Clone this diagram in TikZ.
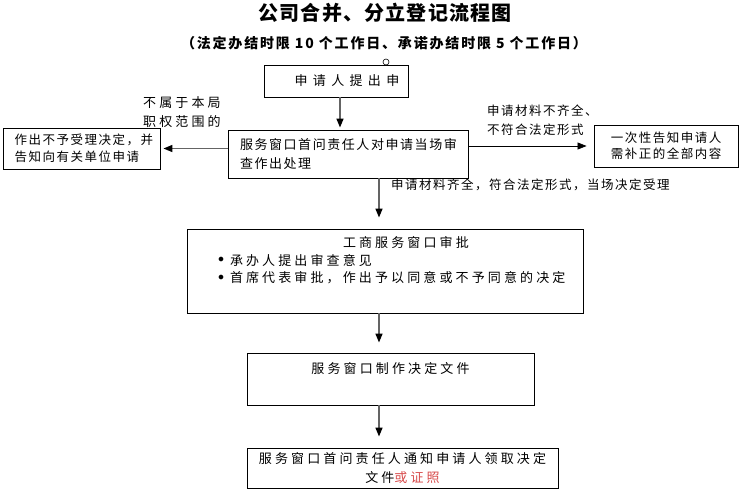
\documentclass[tikz,border=0pt]{standalone}
\usepackage{fontspec}
\setmainfont{Noto Sans CJK SC}
\newfontfamily\cjk{Noto Sans CJK SC}[LetterSpace=12]
\newfontfamily\cjkwide{Noto Sans CJK SC}[LetterSpace=24]
\newfontfamily\cjkspread{Noto Sans CJK SC}[LetterSpace=41]
\newfontfamily\cjktitle{Noto Sans CJK SC}[LetterSpace=6]
\newfontfamily\cjksub{Noto Sans CJK SC}[LetterSpace=13]
\usetikzlibrary{positioning, arrows.meta}
\definecolor{notered}{RGB}{215,75,75}
\definecolor{flowgray}{RGB}{100,100,100}
\newcommand{\listdot}{\hspace*{-3pt}\makebox[12pt][l]{\raisebox{2.5pt}{$\bullet$}}}

\tikzset{
	box/.style={draw, line width=0.9pt, inner sep=0pt, font={\cjk\fontsize{13}{18}\selectfont}},
	note/.style={anchor=west, align=left, inner sep=0pt, font={\cjk\fontsize{12.5}{19}\selectfont}},
	flow/.style={draw=flowgray, line width=1.5pt, -{Triangle[black,length=9pt,width=7pt]}},
	thinflow/.style={draw, line width=0.8pt, -{Triangle[length=9pt,width=7pt]}}
}

\begin{document}
\begin{tikzpicture}[x=1pt,y=-1pt]
	\useasboundingbox (0,0) rectangle (744,495);
	
	%Heading
	\node[font={\cjktitle\bfseries\fontsize{20}{24}\selectfont}] (title) at (385,13) {公司合并、分立登记流程图};
	\node[font={\cjksub\bfseries\fontsize{14}{16}\selectfont}] (subtitle) at (384,43) {（法定办结时限 10 个工作日、承诺办结时限 5 个工作日）};
	
	%Flow boxes
	\node[box, minimum width=144pt, minimum height=32pt, font={\cjkspread\fontsize{13}{18}\selectfont}] (apply) at (336,81) {\hspace*{22pt}申请人提出申};
	\node[circle, draw, fill=white, line width=0.6pt, minimum size=6pt, inner sep=0pt] (knob) at (386,62) {};
	\node[box, minimum width=240pt, minimum height=48pt, text width=216pt, align=left, font={\cjk\fontsize{13}{19}\selectfont}] (handle) at (348,154) {服务窗口首问责任人对申请当场审\\查作出处理};
	\node[box, minimum width=157pt, minimum height=41pt, text width=134pt, align=left, font={\cjk\fontsize{12.5}{16.5}\selectfont}] (refuse) at (81.5,148.5) {作出不予受理决定，并\\告知向有关单位申请};
	\node[box, minimum width=144pt, minimum height=42pt, align=center, font={\cjk\fontsize{12.5}{16}\selectfont}] (notify) at (666,146) {一次性告知申请人\\需补正的全部内容};
	\node[box, minimum width=396pt, minimum height=84pt, text width=328pt, align=left, font={\cjkwide\fontsize{13}{17.5}\selectfont}] (approve) at (385,271) {\hspace*{122pt}工商服务窗口审批\\\listdot 承办人提出审查意见\\\listdot 首席代表审批，作出予以同意或不予同意的决定\\\strut};
	\node[box, minimum width=287pt, minimum height=52pt, align=center, font={\cjkwide\fontsize{13}{17}\selectfont}] (design) at (390.5,379) {服务窗口制作决定文件\\\strut};
	\node[box, minimum width=311pt, minimum height=40pt, align=center, font={\cjkwide\fontsize{13}{19}\selectfont}] (deliver) at (402.5,468) {服务窗口首问责任人通知申请人领取决定\\文件{\color{notered}或证照}};
	
	%Branch labels
	\node[note, font={\cjkwide\fontsize{13}{19}\selectfont}] (outscope) at (143,112.5) {不属于本局\\职权范围的};
	\node[note] (lackdoc) at (487,120.5) {申请材料不齐全、\\不符合法定形式};
	\node[note] (accept) at (391,185) {申请材料齐全，符合法定形式，当场决定受理};
	
	%Arrows
	\coordinate (axis) at (379,0);
	\draw[flow, shorten >=2pt] ([xshift=4pt]apply.south) -- ([xshift=4pt]apply.south |- handle.north);
	\draw[flow, shorten >=3pt] (handle.west |- refuse.east) -- (refuse.east);
	\draw[thinflow, shorten >=7pt] (handle.east |- notify.west) -- (notify.west);
	\draw[flow, shorten >=11pt] (handle.south -| axis) -- (approve.north -| axis);
	\draw[flow, shorten >=10pt] (approve.south -| axis) -- (design.north -| axis);
	\draw[flow, shorten >=11pt] (design.south -| axis) -- (deliver.north -| axis);
	
\end{tikzpicture}
\end{document}
